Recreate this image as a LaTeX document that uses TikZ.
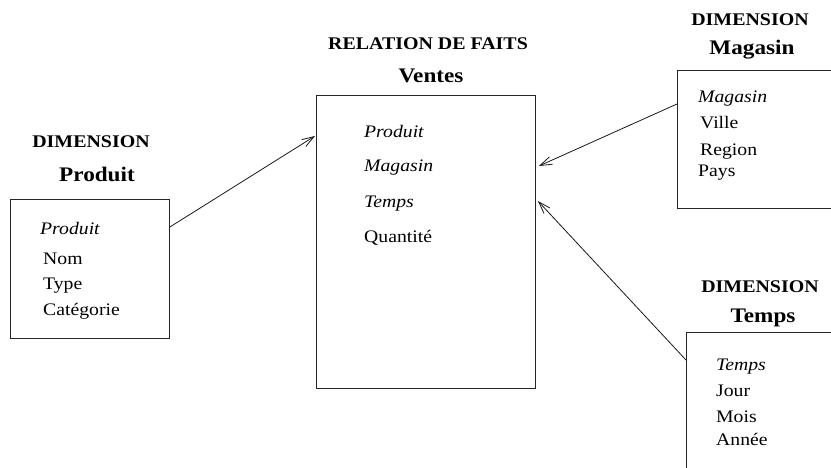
\documentclass[tikz,border=0pt]{standalone}
\usepackage{fontspec}
\setmainfont{Liberation Serif}[FakeStretch=1.12]
\usetikzlibrary{arrows.meta,calc}
\begin{document}
\begin{tikzpicture}[x=1pt,y=-1pt,
  tablebox/.style={draw=black!85,line width=0.9pt,anchor=north west,inner sep=0pt},
  dimlabel/.style={font=\fontsize{17.8}{20}\selectfont\bfseries,anchor=base,inner sep=0pt},
  tablename/.style={font=\fontsize{20.7}{24}\selectfont\bfseries,anchor=base,inner sep=0pt},
  attr/.style={font=\fontsize{17.6}{20}\selectfont,anchor=base west,inner sep=0pt},
  keyattr/.style={font=\fontsize{17.6}{20}\selectfont\itshape,anchor=base west,inner sep=0pt},
  link/.style={draw=black!90,line width=0.8pt,-{Straight Barb[length=12pt,width=8pt,line width=0.8pt]}}]
\path[use as bounding box,clip] (0,0) rectangle (831,468);
\fill[white] (0,0) rectangle (831,468);

% fact table
\node[dimlabel] (vhead) at (428,50) {RELATION DE FAITS};
\node[tablename] (vname) at (431,83) {Ventes};
\node[tablebox,minimum width=219pt,minimum height=293pt] (vbox) at (316,95) {};
\node[keyattr] (vprod) at (364,138) {Produit};
\node[keyattr] (vmag) at (364,172) {Magasin};
\node[keyattr] (vtemps) at (364,208) {Temps};
\node[attr] (vqte) at (364,243) {Quantité};

% dimension Produit
\node[dimlabel] (phead) at (91,148) {DIMENSION};
\node[tablename] (pname) at (97,182) {Produit};
\node[tablebox,minimum width=159pt,minimum height=139pt] (pbox) at (10,199) {};
\node[keyattr] (pkey) at (40,235) {Produit};
\node[attr] (pnom) at (43,265) {Nom};
\node[attr] (ptype) at (43,290) {Type};
\node[attr] (pcat) at (43,315) {Catégorie};

% dimension Magasin
\node[dimlabel] (mhead) at (750,26) {DIMENSION};
\node[tablename] (mname) at (752,55) {Magasin};
\node[tablebox,minimum width=220pt,minimum height=138pt] (mbox) at (677,70) {};
\node[keyattr] (mkey) at (698,103) {Magasin};
\node[attr] (mville) at (700,129) {Ville};
\node[attr] (mregion) at (700,156) {Region};
\node[attr] (mpays) at (698,177) {Pays};

% dimension Temps
\node[dimlabel] (thead) at (760,292) {DIMENSION};
\node[tablename] (tname) at (763,323) {Temps};
\node[tablebox,minimum width=220pt,minimum height=200pt] (tbox) at (686,332) {};
\node[keyattr] (tkey) at (716,370) {Temps};
\node[attr] (tjour) at (716,396) {Jour};
\node[attr] (tmois) at (716,422) {Mois};
\node[attr] (tannee) at (716,445) {Année};

% foreign key links
\coordinate (pout) at (pbox.east |- 0,227);
\coordinate (vinp) at ($(vbox.west |- 0,136)+(-1,0)$);
\coordinate (mout) at (mbox.west |- 0,104);
\coordinate (vinm) at ($(vbox.east |- 0,166)+(3,0)$);
\coordinate (tout) at (tbox.west |- 0,360);
\coordinate (vint) at ($(vbox.east |- 0,201)+(2,0)$);
\draw[link] (pout) -- (vinp);
\draw[link] (mout) -- (vinm);
\draw[link] (tout) -- (vint);
\end{tikzpicture}
\end{document}
